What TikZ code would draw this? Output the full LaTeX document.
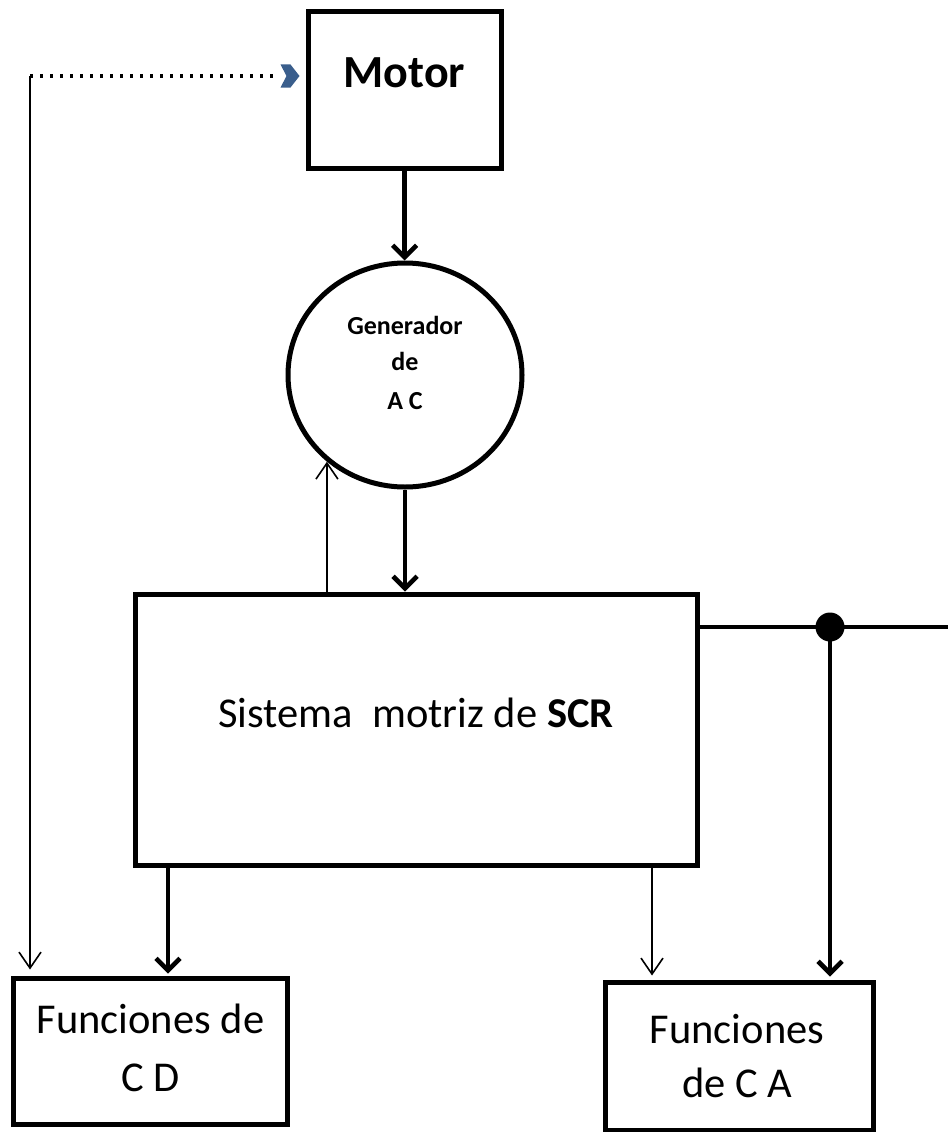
\documentclass[tikz,border=0pt]{standalone}
\usepackage{fontspec}
\setmainfont{Carlito}
\usetikzlibrary{arrows.meta,shapes.geometric}
\definecolor{arrowblue}{HTML}{3A5E8C}

\begin{document}
\begin{tikzpicture}[x=1pt,y=-1pt,
  box/.style={draw, line width=5pt, rectangle, inner sep=0pt},
  heavy/.style={line width=4.6pt, -{Straight Barb[length=12pt,width=24pt]}},
  light/.style={line width=1.6pt, -{Straight Barb[length=16pt,width=22pt]}},
  lbl/.style={anchor=base, inner sep=0pt},
  bigfont/.style={font=\fontsize{42.5}{50}\selectfont},
  genfont/.style={font=\fontsize{26}{30}\selectfont\bfseries},
]
\useasboundingbox (0,0) rectangle (948,1132);

% blocks
\node[box, minimum width=193pt, minimum height=156pt] (motor) at (404.5,90) {};
\node[lbl, font=\fontsize{46}{50}\selectfont\bfseries] (motortxt) at (404.5,87) {Motor};

\node[draw, ellipse, line width=5pt, minimum width=234pt, minimum height=224pt, inner sep=0pt] (gen) at (405,375) {};
\node[lbl, genfont] (gen1) at (405,334) {Generador};
\node[lbl, genfont] (gen2) at (405,370) {de};
\node[lbl, genfont] (gen3) at (405,409) {A C};

\node[box, minimum width=562pt, minimum height=271pt] (scr) at (416,729.5) {};
\node[lbl, bigfont] (scrtxt) at (416,727) {Sistema~~motriz de \textbf{SCR}};

\node[box, minimum width=274pt, minimum height=146pt] (cd) at (150,1051) {};
\node[lbl, bigfont] (cd1) at (150.5,1033) {Funciones de};
\node[lbl, bigfont] (cd2) at (150.5,1091) {C D};

\node[box, minimum width=268pt, minimum height=148pt] (ca) at (739,1056) {};
\node[lbl, bigfont] (ca1) at (737,1043) {Funciones};
\node[lbl, bigfont] (ca2) at (737,1097) {de C A};

% helper points
\coordinate (corner) at (30,76);
\coordinate (jn) at (830,627);
\coordinate (rt) at (948,627);
\coordinate (cdx) at (168,0);
\coordinate (cax) at (652,0);

% power path
\draw[heavy] (motor.south) -- (motor.south |- gen.north);
\draw[heavy] (gen.south) -- (gen.south |- scr.north);
\draw[light] (gen.228.9 |- scr.north) -- (gen.228.9);

% output bus
\draw[line width=4.6pt] (jn -| scr.east) -- (rt);
\fill (jn) circle (14.5pt);
\draw[heavy, shorten >=3pt] (jn) -- (jn |- ca.north);

\draw[heavy, shorten >=2pt] (cdx |- scr.south) -- (cdx |- cd.north);
\draw[light, shorten >=4pt] (cax |- scr.south) -- (cax |- ca.north);

% feedback loop: dotted line ending in a chevron head
\coordinate (chev) at ([xshift=-6pt]corner -| motor.west);
\draw[line width=3.3pt, dash pattern=on 3.3pt off 6.7pt, shorten >=20pt]
  (corner) -- (chev);
\fill[arrowblue] (chev) -- ++(-9,-11.5) -- ++(-10,0) -- ++(6,11.5)
  -- ++(-6,11.5) -- ++(10,0) -- cycle;
\draw[light, shorten >=6pt] (corner) -- (corner |- cd.north);
\end{tikzpicture}
\end{document}
